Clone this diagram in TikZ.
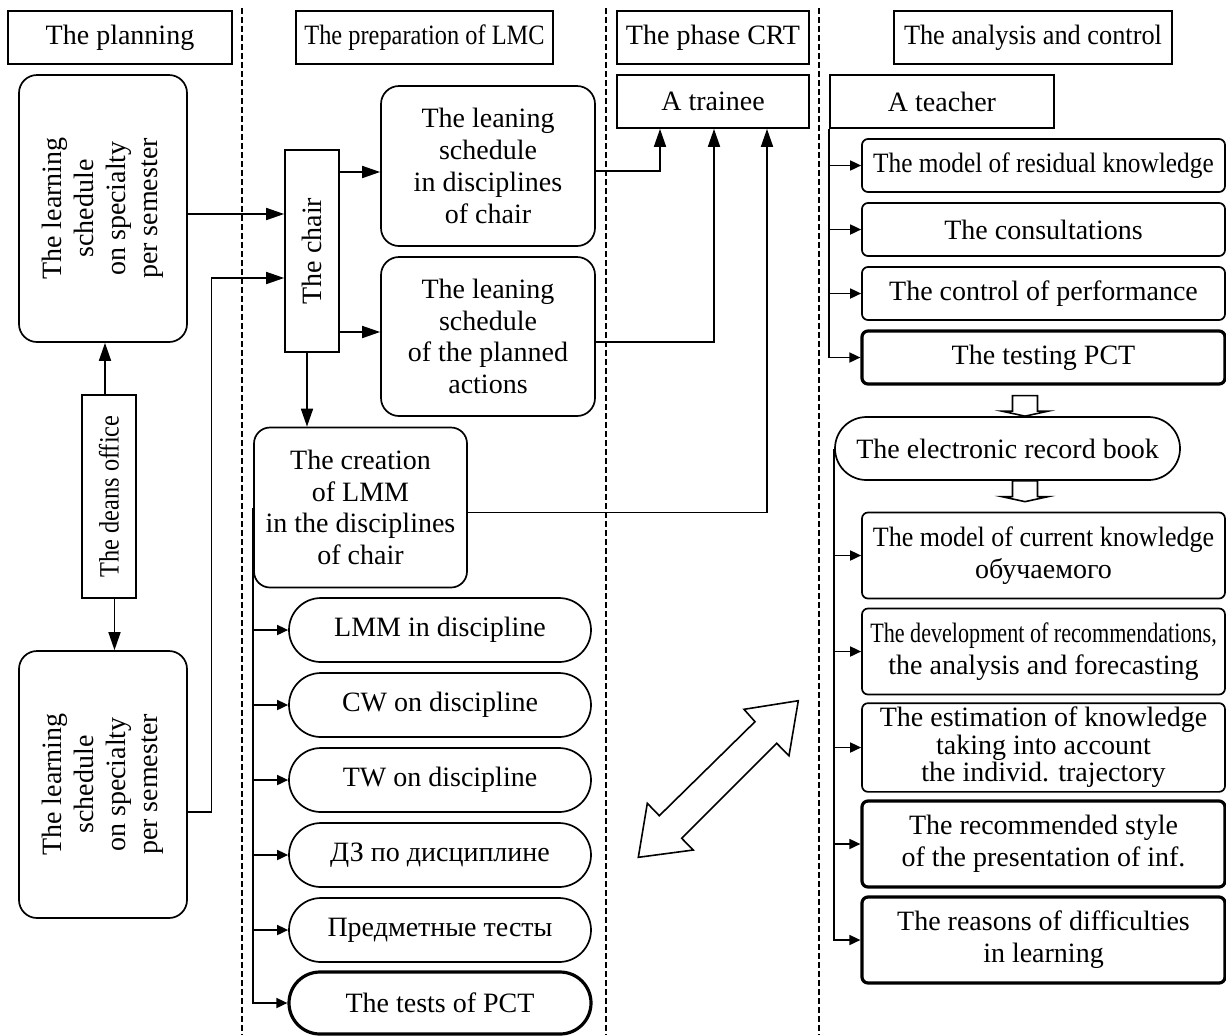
\documentclass[tikz,border=0pt]{standalone}
\usepackage{fontspec}
\setmainfont{Liberation Serif}
\usepackage{graphicx}
\usetikzlibrary{shapes.misc, arrows.meta, positioning, calc}

\newcommand{\squeezetext}[2]{\scalebox{#1}[1]{#2}}
\newcommand{\sidetext}[1]{\rotatebox{90}{\begin{tabular}{@{}c@{}}#1\end{tabular}}}
\newcommand{\blockdown}[2]{%
  \draw[hollow] ($(#1)+(-12.5,0)$) -- ($(#1)+(12.5,0)$) -- ($(#2)+(12.5,-5)$) -- ($(#2)+(23,-5)$)
    -- (#2) -- ($(#2)+(-23,-5)$) -- ($(#2)+(-12.5,-5)$) -- cycle;}

\begin{document}
\begin{tikzpicture}[x=0.5pt, y=-0.5pt,
  font=\fontsize{14}{15.9}\selectfont,
  box/.style={draw, line width=0.85pt, inner sep=2pt, align=center},
  rbox/.style={box, rounded corners=8pt},
  pill/.style={draw, line width=0.85pt, rounded rectangle, inner sep=2pt, align=center},
  heavy/.style={line width=1.6pt},
  arr/.style={-{Triangle[length=9pt, width=6pt]}, line width=0.85pt},
  tick/.style={-{Triangle[length=5.5pt, width=5pt]}, line width=0.85pt},
  sep/.style={dash pattern=on 3pt off 1.5pt, line width=0.6pt},
  hollow/.style={draw, line width=0.8pt, fill=white, line join=miter}]
  \useasboundingbox (0,0) rectangle (1226,1035);

  % Column separators
  \draw[sep] (242,8) -- (242,1035);
  \draw[sep] (606,8) -- (606,1035);
  \draw[sep] (819,8) -- (819,1035);

  % Headers
  \node[box, minimum width=112pt, minimum height=26.5pt] (plan) at (120,37.5) {The planning};
  \node[box, minimum width=128.5pt, minimum height=26.5pt] (prep) at (424.5,37.5) {\squeezetext{0.87}{The preparation of LMC}};
  \node[box, minimum width=96pt, minimum height=26.5pt] (crt) at (713,37.5) {The phase CRT};
  \node[box, minimum width=139pt, minimum height=26.5pt] (anal) at (1033,37.5) {\squeezetext{0.94}{The analysis and control}};

  % Planning
  \node[rbox, rounded corners=9pt, minimum width=84pt, minimum height=133.5pt] (lt) at (103,208.5) {\sidetext{The learning\\schedule\\on specialty\\per semester}};
  \node[box, minimum width=27pt, minimum height=101.5pt] (deans) at (109,496.5) {\rotatebox{90}{\squeezetext{0.87}{The deans office}}};
  \node[rbox, rounded corners=9pt, minimum width=84pt, minimum height=133.5pt] (lb) at (103,784.5) {\sidetext{The learning\\schedule\\on specialty\\per semester}};

  % Preparation of LMC
  \node[box, minimum width=27pt, minimum height=101pt] (chair) at (312,251) {\rotatebox{90}{The chair}};
  \node[rbox, rounded corners=9pt, minimum width=107pt, minimum height=80pt] (ls1) at (488,166) {The leaning\\schedule\\in disciplines\\of chair};
  \node[rbox, rounded corners=9pt, minimum width=107pt, minimum height=79.5pt] (ls2) at (488,336.5) {The leaning\\schedule\\of the planned\\actions};
  \node[rbox, minimum width=106.5pt, minimum height=80pt] (make) at (360.5,507.5) {The creation\\of LMM\\in the disciplines\\of chair};
  \foreach \lbl [count=\i] in {LMM in discipline, CW on discipline, TW on discipline, ДЗ по дисциплине, Предметные тесты}
    \node[pill, minimum width=155pt, minimum height=32pt] (p\i) at (440,555+75*\i) {\lbl};
  \node[pill, heavy, minimum width=155pt, minimum height=31pt] (p6) at (440,1003) {The tests of PCT};

  % Phase CRT
  \node[box, minimum width=96pt, minimum height=26.5pt] (trainee) at (713,101.5) {A trainee};

  % Analysis and control
  \node[box, minimum width=112pt, minimum height=26.5pt] (teacher) at (942,101.5) {A teacher};
  \node[rbox, rounded corners=3pt, minimum width=181.5pt, minimum height=26.5pt] (r1) at (1043.5,165.5) {\squeezetext{0.905}{The model of residual knowledge}};
  \node[rbox, rounded corners=3pt, minimum width=181.5pt, minimum height=26.5pt] (r2) at (1043.5,229.5) {The consultations};
  \node[rbox, rounded corners=3pt, minimum width=181.5pt, minimum height=26.5pt] (r3) at (1043.5,293.5) {The control of performance};
  \node[rbox, heavy, rounded corners=3pt, minimum width=181.5pt, minimum height=26.5pt] (r4) at (1043.5,357.5) {The testing PCT};
  \node[pill, minimum width=176.5pt, minimum height=31.5pt] (book) at (1007.5,448.5) {The electronic record book};
  \node[rbox, rounded corners=3pt, minimum width=181.5pt, minimum height=43pt] (c1) at (1043.5,555.5) {\squeezetext{0.93}{The model of current knowledge}\\обучаемого};
  \node[rbox, rounded corners=3pt, minimum width=181.5pt, minimum height=43pt] (c2) at (1043.5,651.5) {\squeezetext{0.79}{The development of recommendations,}\\the analysis and forecasting};
  \node[rbox, rounded corners=3pt, minimum width=181.5pt, minimum height=43pt, font=\fontsize{14}{11}\selectfont] (c3) at (1043.5,747.5) {The estimation of knowledge\\taking into account\\the individ. trajectory};
  \node[rbox, heavy, rounded corners=3pt, minimum width=181.5pt, minimum height=43pt] (c4) at (1043.5,844) {The recommended style\\of the presentation of inf.};
  \node[rbox, heavy, rounded corners=3pt, minimum width=181.5pt, minimum height=43pt] (c5) at (1043.5,940) {The reasons of difficulties\\in learning};

  % Connectors
  \draw[arr] (lt.east |- 0,214) -- (chair.west |- 0,214);
  \draw[arr] (lb.east |- 0,812) -| (211.5,278) -- (chair.west |- 0,278);
  \draw[arr] (deans.north -| 105,0) -- (lt.south -| 105,0);
  \draw[arr] (deans.south -| 114.5,0) -- (lb.north -| 114.5,0);
  \draw[arr] (chair.east |- 0,172) -- (ls1.west |- 0,172);
  \draw[arr] (chair.east |- 0,332) -- (ls2.west |- 0,332);
  \draw[arr] (chair.south -| 307,0) -- (make.north -| 307,0);
  \draw[arr] (ls1.east |- 0,171) -| (trainee.south -| 660,0);
  \draw[arr] (ls2.east |- 0,342) -| (trainee.south -| 714,0);
  \draw[arr] (make.east |- 0,512.6) -| (trainee.south -| 767,0);
  \foreach \i in {1,...,6} \draw[tick] (make.west) |- (p\i.west);
  \foreach \i in {1,...,4} \draw[tick] (teacher.south west) |- (r\i.west);
  \foreach \i in {1,...,5} \draw[tick] (book.west) |- (c\i.west);

  % Block arrows
  \path (r4.south -| 1025,0) ++(0,10) coordinate (a1top) (book.north -| 1025,0) coordinate (a1tip);
  \path (book.south -| 1025,0) coordinate (a2top) (c1.north -| 1025,0) ++(0,-10) coordinate (a2tip);
  \blockdown{a1top}{a1tip}
  \blockdown{a2top}{a2tip}
  \draw[hollow] (798.3,700.7) -- (744,709.3) -- (755,721.7) -- (659.3,815.7) -- (647.3,803.3) -- (638.3,857.3)
    -- (693.3,850) -- (681.7,838.3) -- (776.7,743.3) -- (789,755.7) -- cycle;
\end{tikzpicture}
\end{document}
